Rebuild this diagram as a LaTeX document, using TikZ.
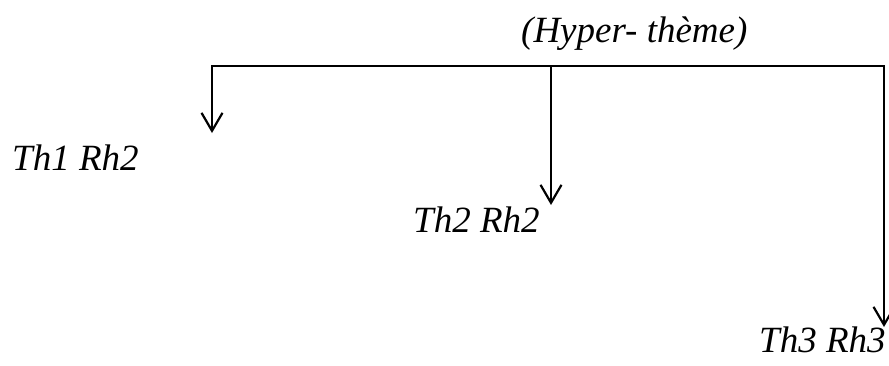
\documentclass[tikz,border=0pt]{standalone}
\usepackage{fontspec}
\setmainfont{Liberation Serif}
\usetikzlibrary{arrows.meta}
\tikzset{
  lbl/.style={inner sep=0pt, anchor=base west, font=\fontsize{37}{41}\selectfont\itshape},
  link/.style={line width=2.2pt, line cap=rect},
  arr/.style={line width=2.2pt, -{Straight Barb[length=18pt,width=21pt,line width=2.2pt]}}
}
\begin{document}
\begin{tikzpicture}[x=1pt,y=-1pt]
\useasboundingbox[fill=white] (0,0) rectangle (889,365);
\node[lbl] (hyper) at (521,42) {(Hyper- thème)};
\node[lbl] (th1) at (12,170) {Th1 Rh2};
\node[lbl] (th2) at (413,232) {Th2 Rh2};
\node[lbl] (th3) at (759,352) {Th3 Rh3};
\coordinate (c1) at (212,66);
\coordinate (c2) at (551,66);
\coordinate (c3) at (884,66);
\coordinate (t1) at (212,133);
\coordinate (t2) at (551,205);
\coordinate (t3) at (884,327);
\draw[link] (c1) -- (c3);
\draw[arr] (c1) -- (t1);
\draw[arr] (c2) -- (t2);
\draw[arr] (c3) -- (t3);
\end{tikzpicture}
\end{document}
